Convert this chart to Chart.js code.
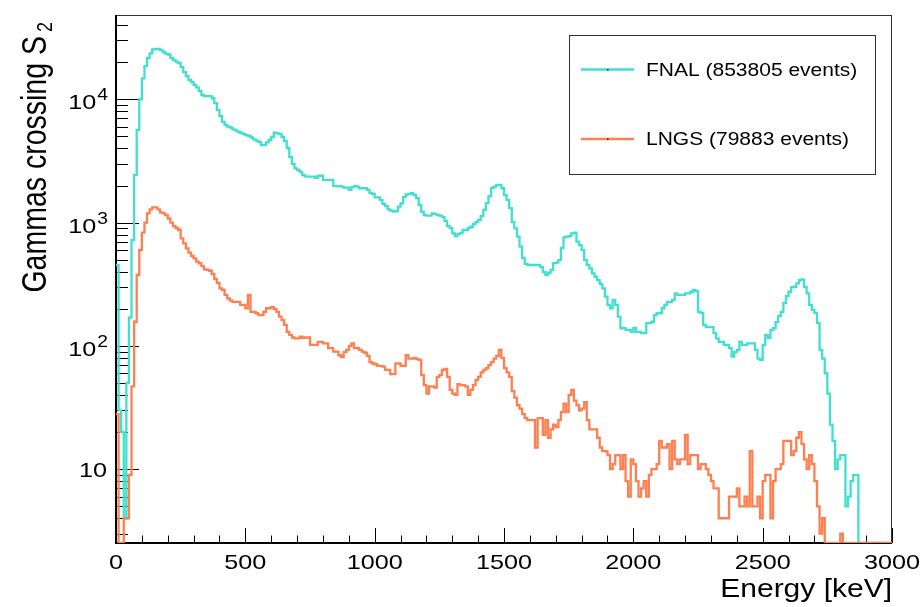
<!DOCTYPE html>
<html>
<head>
<meta charset="utf-8">
<script src="https://cdn.jsdelivr.net/npm/chart.js@4.4.0/dist/chart.umd.min.js"></script>
<style>
  html, body { margin: 0; padding: 0; background: #fff; }
  #wrap { width: 922px; height: 607px; }
</style>
</head>
<body>
<div id="wrap"><canvas id="chart" width="922" height="607"></canvas></div>
<script>
// Histogram: 300 bins of 10 keV, 0-3000 keV
const BIN_WIDTH = 10;

const fnalCounts = [
  453, 30, 20, 4, 50, 170, 720, 2430, 5640, 10000,
  14800, 18600, 21700, 23600, 25400, 25600, 25600, 25100, 24200, 23500,
  23100, 21700, 20800, 20200, 19700, 18300, 16600, 15400, 14300, 13800,
  13100, 12500, 11700, 10800, 10600, 10600, 10600, 10200, 9330, 8190,
  7320, 6550, 6190, 6000, 5910, 5710, 5590, 5460, 5330, 5230,
  5130, 5040, 4900, 4740, 4630, 4510, 4260, 4260, 4480, 4680,
  4950, 5360, 5300, 5230, 4950, 4590, 4030, 3400, 2990, 2750,
  2670, 2570, 2430, 2370, 2360, 2360, 2360, 2310, 2400, 2400,
  2220, 2220, 2220, 2220, 1980, 1980, 1980, 1960, 1920, 1920,
  1840, 1940, 1980, 1960, 1900, 1900, 1900, 1840, 1740, 1710,
  1600, 1600, 1530, 1420, 1360, 1280, 1250, 1230, 1240, 1350,
  1430, 1610, 1690, 1710, 1730, 1670, 1580, 1390, 1220, 1150,
  1140, 1140, 1190, 1170, 1150, 1140, 1110, 1030, 938, 904,
  819, 778, 808, 824, 871, 871, 904, 926, 975, 1010,
  1050, 1130, 1270, 1440, 1640, 1910, 1960, 2020, 2020, 1900,
  1670, 1530, 1310, 1010, 899, 769, 638, 516, 462, 453,
  453, 453, 453, 453, 436, 397, 376, 392, 413, 470,
  473, 497, 622, 760, 769, 778, 819, 828, 700, 658,
  600, 497, 453, 426, 388, 364, 342, 318, 293, 251,
  215, 202, 236, 215, 173, 139, 139, 135, 135, 130,
  140, 130, 130, 127, 127, 153, 153, 157, 178, 184,
  184, 202, 215, 228, 228, 236, 267, 259, 259, 259,
  267, 267, 275, 284, 278, 189, 185, 148, 142, 142,
  142, 127, 115, 108, 108, 102, 102, 96, 82, 89,
  93, 108, 102, 102, 105, 105, 105, 93, 79, 77,
  102, 123, 116, 135, 139, 156, 175, 189, 223, 254,
  275, 300, 302, 322, 342, 347, 300, 267, 215, 196,
  185, 153, 93, 79, 60, 41, 23, 17, 10, 12,
  13, 13, 5, 6, 8, 9, 9, 0, 0, 0,
  0, 0, 0, 0, 0, 0, 0, 0, 0, 0
];

const lngsCounts = [
  28, 0, 0, 4, 4, 9, 47, 157, 376, 600,
  828, 998, 1190, 1280, 1330, 1330, 1280, 1210, 1190, 1150,
  1080, 998, 938, 904, 871, 746, 679, 619, 570, 536,
  513, 482, 468, 444, 418, 413, 407, 383, 349, 324,
  293, 284, 259, 243, 233, 228, 228, 228, 215, 215,
  202, 259, 189, 189, 184, 178, 178, 189, 202, 202,
  206, 199, 189, 173, 162, 148, 130, 123, 117, 115,
  115, 119, 116, 117, 117, 102, 102, 102, 108, 108,
  105, 105, 96, 96, 90, 90, 84, 81, 89, 93,
  100, 105, 96, 96, 93, 90, 88, 83, 74, 72,
  71, 69, 69, 68, 64, 64, 59, 59, 72, 72,
  69, 69, 84, 79, 79, 80, 78, 77, 58, 48,
  41, 47, 47, 46, 56, 58, 64, 65, 56, 44,
  41, 40, 49, 48, 48, 47, 40, 44, 48, 53,
  56, 61, 64, 66, 70, 74, 79, 83, 93, 80,
  66, 61, 56, 43, 38, 33, 31, 28, 26, 25,
  25, 25, 15, 26, 26, 19, 25, 18, 21, 23,
  22, 25, 29, 34, 29, 40, 44, 36, 33, 30,
  31, 35, 25, 21, 21, 21, 18, 15, 14, 14,
  13, 10, 11, 13, 13, 10, 13, 8, 6, 12,
  11, 8, 6, 7, 8, 6, 9, 10, 10, 11,
  17, 15, 15, 16, 10, 17, 12, 11, 12, 12,
  19, 11, 13, 13, 13, 10, 11, 11, 10, 9,
  8, 7, 7, 4, 4, 4, 4, 6, 6, 6,
  7, 5, 5, 6, 5, 14, 5, 5, 6, 4,
  8, 9, 9, 4, 8, 10, 10, 11, 17, 17,
  17, 13, 14, 18, 20, 16, 12, 10, 13, 11,
  8, 5, 3, 4, 0, 0, 0, 0, 0, 0,
  3, 0, 0, 0, 0, 0, 0, 0, 0, 0,
  0, 0, 0, 0, 0, 0, 0, 0, 0, 0
];

const seriesNames = ["FNAL (853805 events)", "LNGS (79883 events)"];
const seriesColors = ["#40e0d0", "#ff7f50"];
const xTickValues = [0, 500, 1000, 1500, 2000, 2500, 3000];
const xMinorStep = 100;
const yDecades = [10, 100, 1000, 10000];
const X_MIN = 0, X_MAX = 3000;
const Y_MIN = 2.52, Y_MAX = 48300;

const FONT = '"Liberation Sans", Arial, Helvetica, sans-serif';
const SX = 1.2; // the reference text is a bit wide

const binLow = fnalCounts.map((_, i) => i * BIN_WIDTH);

// step points at the lower bin edges, plus the closing edge; empty bins sit on the frame like ROOT
function toSteps(counts) {
  const pts = counts.map((c, i) => ({ x: binLow[i], y: Math.max(c, Y_MIN) }));
  pts.push({ x: binLow[counts.length - 1] + BIN_WIDTH, y: Math.max(counts[counts.length - 1], Y_MIN) });
  return pts;
}

function drawText(ctx, str, x, y, size, align, rot) {
  ctx.save();
  ctx.translate(x, y);
  ctx.scale(SX, 1);
  if (rot) ctx.rotate(rot);
  ctx.font = size + "px " + FONT;
  ctx.textAlign = align;
  ctx.textBaseline = "alphabetic";
  ctx.fillStyle = "#000";
  ctx.fillText(str, 0, 0);
  ctx.restore();
}

function seg(ctx, x1, y1, x2, y2) {
  ctx.beginPath();
  ctx.moveTo(x1, y1);
  ctx.lineTo(x2, y2);
  ctx.stroke();
}

const rootFrame = {
  id: "rootFrame",
  beforeDatasetsDraw(chart) {
    const ctx = chart.ctx;
    const { left, right, top, bottom } = chart.chartArea;
    const xs = chart.scales.x, ys = chart.scales.y;
    ctx.save();
    // thin frame
    ctx.strokeStyle = "#333";
    ctx.lineWidth = 1;
    seg(ctx, left, top + 0.5, right, top + 0.5);
    seg(ctx, right - 0.5, top, right - 0.5, bottom);
    // axes
    ctx.strokeStyle = "#000";
    ctx.lineWidth = 2;
    seg(ctx, left - 1, bottom, right, bottom);
    seg(ctx, left, top, left, bottom + 1);
    // x ticks (inward)
    ctx.lineWidth = 1;
    for (let e = X_MIN; e <= X_MAX; e += xMinorStep) {
      const px = Math.round(xs.getPixelForValue(e)) + 0.5;
      const len = xTickValues.includes(e) ? 15 : 7.5;
      seg(ctx, px, bottom, px, bottom - len);
    }
    // y ticks (log, inward)
    for (let d = 1; d <= 100000; d *= 10) {
      for (let m = 1; m <= 9; m++) {
        const v = m * d;
        if (v < Y_MIN || v > Y_MAX) continue;
        const py = Math.round(ys.getPixelForValue(v)) + 0.5;
        seg(ctx, left, py, left + (m === 1 ? 23 : 12), py);
      }
    }
    ctx.restore();
  },
  afterDraw(chart) {
    const ctx = chart.ctx;
    const { left, right, top, bottom } = chart.chartArea;
    const xs = chart.scales.x, ys = chart.scales.y;

    // x labels
    xTickValues.forEach(v => {
      drawText(ctx, String(v), xs.getPixelForValue(v), bottom + 25.5, 21, "center");
    });
    // y labels 10, 10^2 ...
    yDecades.forEach(v => {
      const py = ys.getPixelForValue(v);
      const exp = Math.round(Math.log10(v));
      if (exp === 1) {
        drawText(ctx, "10", 107, py + 8, 21, "right");
      } else {
        ctx.save();
        ctx.font = "16px " + FONT;
        const w = ctx.measureText(String(exp)).width * SX;
        ctx.restore();
        drawText(ctx, String(exp), 108, py + 1, 16, "right");
        drawText(ctx, "10", 108 - w - 1, py + 10, 21, "right");
      }
    });

    // axis titles
    drawText(ctx, "Energy [keV]", right, bottom + 54, 25, "right");
    drawText(ctx, "Gammas crossing S", 46, 36, 28.5, "right", -Math.PI / 2);
    drawText(ctx, "2", 52, 32, 18, "left", -Math.PI / 2);

    // legend
    const lx = 569, ly = 35, lw = 306, lh = 139;
    ctx.save();
    ctx.fillStyle = "#fff";
    ctx.fillRect(lx, ly, lw, lh);
    ctx.strokeStyle = "#333";
    ctx.lineWidth = 1;
    ctx.strokeRect(lx + 0.5, ly + 0.5, lw, lh);
    const rows = [69.5, 139];
    chart.data.datasets.forEach((ds, i) => {
      const yy = rows[i];
      ctx.strokeStyle = ds.borderColor;
      ctx.lineWidth = 2.5;
      seg(ctx, 581, yy, 634, yy);
      ctx.fillStyle = "#000";
      ctx.fillRect(607, yy - 0.5, 1.5, 1.5);
      drawText(ctx, ds.label, 646, yy + 6.3, 17.5, "left");
    });
    ctx.restore();
  }
};

new Chart(document.getElementById("chart"), {
  type: "line",
  data: {
    datasets: [
      {
        label: seriesNames[0],
        data: toSteps(fnalCounts),
        borderColor: seriesColors[0],
        borderWidth: 2.3,
        stepped: "before",
        pointRadius: 0,
        fill: false,
        order: 1
      },
      {
        label: seriesNames[1],
        data: toSteps(lngsCounts),
        borderColor: seriesColors[1],
        borderWidth: 2.3,
        stepped: "before",
        pointRadius: 0,
        fill: false,
        order: 0
      }
    ]
  },
  options: {
    responsive: false,
    animation: false,
    devicePixelRatio: 1,
    layout: { padding: { top: 15, right: 30, bottom: 0, left: 0 } },
    scales: {
      x: {
        type: "linear",
        min: X_MIN,
        max: X_MAX,
        ticks: { display: false },
        grid: { display: false },
        border: { display: false },
        afterFit: s => { s.height = 64; }
      },
      y: {
        type: "logarithmic",
        min: Y_MIN,
        max: Y_MAX,
        ticks: { display: false },
        grid: { display: false },
        border: { display: false },
        afterFit: s => { s.width = 116; }
      }
    },
    plugins: {
      legend: { display: false },
      tooltip: { enabled: false }
    }
  },
  plugins: [rootFrame]
});
</script>
</body>
</html>
